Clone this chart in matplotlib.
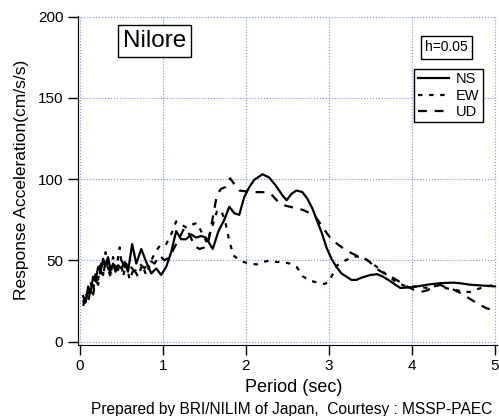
import matplotlib
matplotlib.use("Agg")
import matplotlib.pyplot as plt

plt.rcParams['font.family'] = ['Liberation Sans', 'DejaVu Sans']

# response spectra (period in sec, acceleration in cm/s/s)
ns_t = [0.04, 0.07, 0.1, 0.13, 0.16, 0.19, 0.22, 0.25, 0.28, 0.31, 0.34, 0.37, 0.40, 0.43,
        0.46, 0.5, 0.54, 0.58, 0.63, 0.68, 0.74, 0.8, 0.86, 0.92, 0.98, 1.04, 1.1, 1.16,
        1.22, 1.28, 1.34, 1.4, 1.46, 1.52, 1.6, 1.67, 1.74, 1.8, 1.86, 1.92, 1.98, 2.04,
        2.1, 2.2, 2.28, 2.36, 2.44, 2.49, 2.55, 2.61, 2.68, 2.74, 2.8, 2.86, 2.92, 2.97,
        3.03, 3.09, 3.15, 3.21, 3.27, 3.33, 3.4, 3.5, 3.58, 3.65, 3.73, 3.8, 3.86, 4.0,
        4.1, 4.22, 4.35, 4.5, 4.6, 4.7, 4.85, 5.0]
ns_a = [28, 24, 34, 30, 40, 37, 46, 43, 51, 47, 52, 44, 48, 43,
        47, 45, 49, 43, 60, 48, 57, 49, 42, 45, 41, 46, 55, 68,
        63, 63, 66, 64, 65, 64, 57, 68, 75, 83, 79, 78, 89, 95,
        99.5, 103, 101, 96, 90, 87, 91, 93, 92, 88, 82, 74, 66, 58,
        51, 46, 42, 40, 38, 38, 39.5, 41, 41.5, 40, 37.5, 35, 33, 33.5,
        34.3, 35.3, 36, 36.3, 35.8, 35, 34.5, 34]

ew_t = [0.04, 0.07, 0.1, 0.13, 0.16, 0.19, 0.22, 0.25, 0.28, 0.31, 0.34, 0.37, 0.40, 0.44,
        0.48, 0.52, 0.56, 0.6, 0.65, 0.7, 0.75, 0.8, 0.86, 0.92, 0.98, 1.04, 1.1, 1.16,
        1.22, 1.29, 1.35, 1.41, 1.47, 1.53, 1.59, 1.65, 1.7, 1.75, 1.8, 1.85, 1.9, 1.97,
        2.05, 2.13, 2.21, 2.29, 2.37, 2.45, 2.53, 2.61, 2.69, 2.77, 2.85, 2.95, 3.0, 3.05,
        3.1, 3.2, 3.3, 3.4, 3.5, 3.6, 3.7, 3.8, 3.9, 4.0, 4.1, 4.2, 4.3, 4.4, 4.5, 4.6,
        4.7, 4.8, 4.9, 5.0]
ew_a = [24, 30, 26, 36, 31, 42, 38, 50, 41, 55, 44, 40, 52, 45,
        58, 40, 48, 38, 45, 40, 47, 41, 50, 56, 60, 60, 66, 74,
        72, 70, 72, 73, 67, 61, 70, 80, 81, 74, 62, 53, 51, 49,
        48, 47.5, 49, 50, 49, 49, 48, 46, 40, 37.5, 36.5, 35.5, 37, 42,
        47, 50, 52.5, 52, 49, 45, 41, 37, 34.5, 34, 33.5, 33, 34.5, 33, 32, 31,
        30.5, 32.5, 34, 35]

ud_t = [0.04, 0.07, 0.1, 0.13, 0.16, 0.19, 0.22, 0.25, 0.28, 0.31, 0.34, 0.38, 0.42, 0.46,
        0.5, 0.55, 0.6, 0.66, 0.72, 0.78, 0.84, 0.9, 0.96, 1.02, 1.08, 1.14, 1.2, 1.26,
        1.32, 1.38, 1.44, 1.5, 1.55, 1.6, 1.65, 1.7, 1.75, 1.81, 1.86, 1.92, 2.0, 2.1,
        2.2, 2.3, 2.37, 2.45, 2.53, 2.61, 2.69, 2.77, 2.85, 2.93, 2.97, 3.03, 3.09, 3.17,
        3.25, 3.33, 3.41, 3.49, 3.57, 3.63, 3.7, 3.78, 3.86, 3.94, 4.02, 4.1, 4.18, 4.26,
        4.34, 4.42, 4.5, 4.58, 4.66, 4.74, 4.82, 4.9, 5.0]
ud_a = [22, 27, 24, 33, 29, 38, 35, 44, 40, 50, 45, 42, 47, 44,
        50, 45, 47, 43, 48, 45, 50, 48, 53, 50, 52, 58, 64, 70,
        66, 59, 57, 58, 62, 76, 90, 94, 95, 100.5, 97, 93, 92.5, 92,
        92, 91, 87, 84, 83, 82, 81, 79, 76, 70, 67, 63, 60.5, 57.5,
        55, 53, 52, 49, 45, 43, 41, 39, 36.5, 34, 32, 30.5, 31.5, 33.5,
        35, 33, 32, 30, 27.5, 25, 22.5, 20.5, 19]

fig = plt.figure(figsize=(4.99, 4.16), dpi=100)
ax = fig.add_axes([0.156, 0.171, 0.84, 0.791])

ax.plot(ns_t, ns_a, color='black', lw=1.6, label='NS')
ax.plot(ew_t, ew_a, color='black', lw=1.6, linestyle=(0, (2, 3)), label='EW')
ax.plot(ud_t, ud_a, color='black', lw=1.6, linestyle=(0, (4, 3.5)), label='UD')

ax.set_xlim(-0.024, 5.024)
ax.set_ylim(-2, 200.5)
ax.set_xticks([0, 1, 2, 3, 4, 5])
ax.set_yticks([0, 50, 100, 150, 200])
ax.grid(True, color='#7f8fff', linestyle=':', linewidth=0.8)
ax.spines['top'].set_visible(False)
ax.spines['right'].set_visible(False)
ax.tick_params(direction='out', length=7, width=1, labelsize=11, colors='black')

ax.set_xlabel('Period (sec)', fontsize=13)
ax.xaxis.set_label_coords(0.515, -0.103)
ax.set_ylabel('Response Acceleration(cm/s/s)', fontsize=12.5, labelpad=6)

ax.text(0.184, 0.923, 'Nilore', transform=ax.transAxes, fontsize=17.5,
        ha='center', va='center',
        bbox=dict(boxstyle='square,pad=0.2', fc='white', ec='black', lw=1))
ax.text(0.88, 0.904, 'h=0.05', transform=ax.transAxes, fontsize=10,
        ha='center', va='center',
        bbox=dict(boxstyle='square,pad=0.3', fc='white', ec='black', lw=1))

leg = ax.legend(loc='upper right', bbox_to_anchor=(0.967, 0.839), fontsize=10.5,
                handlelength=2.1, handletextpad=0.5, borderpad=0.25,
                labelspacing=0.15, fancybox=False, framealpha=1,
                borderaxespad=0)
leg.get_frame().set_edgecolor('black')
leg.get_frame().set_linewidth(1)

fig.text(0.585, 0.016, 'Prepared by BRI/NILIM of Japan,  Courtesy : MSSP-PAEC',
         ha='center', va='center', fontsize=11.2)

fig.savefig('out.png', dpi=100)
